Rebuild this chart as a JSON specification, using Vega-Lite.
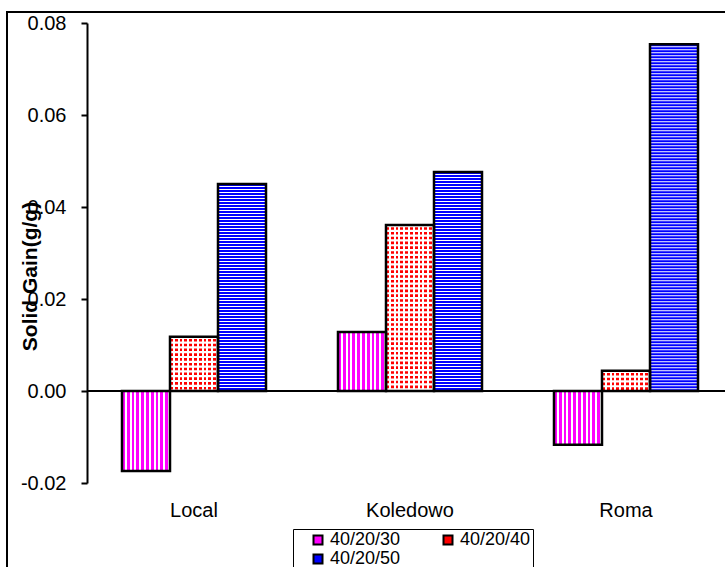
{
  "$schema": "https://vega.github.io/schema/vega-lite/v6.json",
  "width": 638,
  "height": 460,
  "autosize": {"type": "none"},
  "padding": {"left": 87, "top": 23, "right": 0, "bottom": 84},
  "background": "white",
  "config": {"view": {"stroke": null}, "font": "Liberation Sans"},
  "data": {"values": [
    {"cat": "Local", "series": "40/20/30", "v": -0.0174},
    {"cat": "Local", "series": "40/20/40", "v": 0.0118},
    {"cat": "Local", "series": "40/20/50", "v": 0.045},
    {"cat": "Koledowo", "series": "40/20/30", "v": 0.0128},
    {"cat": "Koledowo", "series": "40/20/40", "v": 0.0361},
    {"cat": "Koledowo", "series": "40/20/50", "v": 0.0476},
    {"cat": "Roma", "series": "40/20/30", "v": -0.0117},
    {"cat": "Roma", "series": "40/20/40", "v": 0.0044},
    {"cat": "Roma", "series": "40/20/50", "v": 0.0754}
  ]},
  "layer": [
    {
      "encoding": {
        "x": {"field": "cat", "type": "nominal",
          "scale": {"type": "band", "domain": ["Local", "Koledowo", "Roma"], "paddingInner": 0.3333, "paddingOuter": 0.1435, "align": 0.5645},
          "axis": {"title": null, "domain": false, "ticks": false, "tickSize": 0, "labelAngle": 0, "labelFont": "Liberation Sans", "labelFontSize": 20, "labelColor": "black", "labelPadding": 17}},
        "xOffset": {"field": "series", "type": "nominal", "scale": {"domain": ["40/20/30", "40/20/40", "40/20/50"], "paddingInner": 0, "paddingOuter": 0}},
        "y": {"field": "v", "type": "quantitative", "stack": null,
          "scale": {"domain": [-0.02, 0.08], "nice": false, "zero": false},
          "axis": {"values": [-0.02, 0, 0.02, 0.04, 0.06, 0.08], "labelExpr": "replace(format(datum.value, '.2f'), '\u2212', '-')", "grid": false,
            "domainColor": "black", "domainWidth": 2, "tickColor": "black", "tickWidth": 2, "tickSize": 6,
            "labelFont": "Liberation Sans", "labelFontSize": 20, "labelColor": "black", "labelPadding": 15,
            "title": "Solid Gain(g/g)", "titleFont": "Liberation Sans", "titleFontSize": 21, "titleFontWeight": "bold", "titleColor": "black",
            "titleAngle": -90, "titleX": -57, "titleY": 253, "titleAlign": "center", "titleBaseline": "middle"}},
        "y2": {"datum": 0}
      },
      "layer": [
        {"mark": {"type": "bar"},
         "encoding": {"fill": {"field": "series", "type": "nominal",
           "scale": {"domain": ["40/20/30", "40/20/40", "40/20/50"], "range": ["#ff00ff", "#ff0000", "#0000ff"]},
           "legend": {"orient": "none", "legendX": 206, "legendY": 506, "columns": 2, "direction": "horizontal",
             "title": " ", "titleOrient": "left", "titlePadding": 14, "titleFontSize": 18,
             "padding": 2, "strokeColor": "black", "fillColor": "white",
             "symbolType": "square", "symbolSize": 81, "symbolStrokeColor": "black", "symbolStrokeWidth": 2, "symbolOpacity": 1,
             "labelFont": "Liberation Sans", "labelFontSize": 18, "labelColor": "black", "labelOffset": 3,
             "rowPadding": 1, "columnPadding": 38, "labelLimit": 300}}}},
        {"transform": [{"filter": "datum.series === '40/20/30'"}],
         "mark": {"type": "bar", "fill": {"gradient": "linear", "x1": 0, "y1": 0, "x2": 1, "y2": 0, "stops": [
           {"offset": 0, "color": "#f0f"}, {"offset": 0.06, "color": "#f0f"}, {"offset": 0.06, "color": "#fff"}, {"offset": 0.1, "color": "#fff"},
           {"offset": 0.1, "color": "#f0f"}, {"offset": 0.16, "color": "#f0f"}, {"offset": 0.16, "color": "#fff"}, {"offset": 0.2, "color": "#fff"},
           {"offset": 0.2, "color": "#f0f"}, {"offset": 0.26, "color": "#f0f"}, {"offset": 0.26, "color": "#fff"}, {"offset": 0.3, "color": "#fff"},
           {"offset": 0.3, "color": "#f0f"}, {"offset": 0.36, "color": "#f0f"}, {"offset": 0.36, "color": "#fff"}, {"offset": 0.4, "color": "#fff"},
           {"offset": 0.4, "color": "#f0f"}, {"offset": 0.46, "color": "#f0f"}, {"offset": 0.46, "color": "#fff"}, {"offset": 0.5, "color": "#fff"},
           {"offset": 0.5, "color": "#f0f"}, {"offset": 0.56, "color": "#f0f"}, {"offset": 0.56, "color": "#fff"}, {"offset": 0.6, "color": "#fff"},
           {"offset": 0.6, "color": "#f0f"}, {"offset": 0.66, "color": "#f0f"}, {"offset": 0.66, "color": "#fff"}, {"offset": 0.7, "color": "#fff"},
           {"offset": 0.7, "color": "#f0f"}, {"offset": 0.76, "color": "#f0f"}, {"offset": 0.76, "color": "#fff"}, {"offset": 0.8, "color": "#fff"},
           {"offset": 0.8, "color": "#f0f"}, {"offset": 0.86, "color": "#f0f"}, {"offset": 0.86, "color": "#fff"}, {"offset": 0.9, "color": "#fff"},
           {"offset": 0.9, "color": "#f0f"}, {"offset": 0.96, "color": "#f0f"}, {"offset": 0.96, "color": "#fff"}, {"offset": 1, "color": "#fff"}]}}},
        {"transform": [{"filter": "datum.series === '40/20/40'"}],
         "mark": {"type": "bar", "fill": {"gradient": "linear", "x1": 0, "y1": 0, "x2": 1, "y2": 0, "stops": [
           {"offset": 0, "color": "#f00"}, {"offset": 0.06, "color": "#f00"}, {"offset": 0.06, "color": "#fff"}, {"offset": 0.1, "color": "#fff"},
           {"offset": 0.1, "color": "#f00"}, {"offset": 0.16, "color": "#f00"}, {"offset": 0.16, "color": "#fff"}, {"offset": 0.2, "color": "#fff"},
           {"offset": 0.2, "color": "#f00"}, {"offset": 0.26, "color": "#f00"}, {"offset": 0.26, "color": "#fff"}, {"offset": 0.3, "color": "#fff"},
           {"offset": 0.3, "color": "#f00"}, {"offset": 0.36, "color": "#f00"}, {"offset": 0.36, "color": "#fff"}, {"offset": 0.4, "color": "#fff"},
           {"offset": 0.4, "color": "#f00"}, {"offset": 0.46, "color": "#f00"}, {"offset": 0.46, "color": "#fff"}, {"offset": 0.5, "color": "#fff"},
           {"offset": 0.5, "color": "#f00"}, {"offset": 0.56, "color": "#f00"}, {"offset": 0.56, "color": "#fff"}, {"offset": 0.6, "color": "#fff"},
           {"offset": 0.6, "color": "#f00"}, {"offset": 0.66, "color": "#f00"}, {"offset": 0.66, "color": "#fff"}, {"offset": 0.7, "color": "#fff"},
           {"offset": 0.7, "color": "#f00"}, {"offset": 0.76, "color": "#f00"}, {"offset": 0.76, "color": "#fff"}, {"offset": 0.8, "color": "#fff"},
           {"offset": 0.8, "color": "#f00"}, {"offset": 0.86, "color": "#f00"}, {"offset": 0.86, "color": "#fff"}, {"offset": 0.9, "color": "#fff"},
           {"offset": 0.9, "color": "#f00"}, {"offset": 0.96, "color": "#f00"}, {"offset": 0.96, "color": "#fff"}, {"offset": 1, "color": "#fff"}]}}},
        {"transform": [{"filter": "datum.series === '40/20/50'"}],
         "mark": {"type": "bar", "fill": "white"}},
        {"transform": [{"filter": "datum.series === '40/20/40'"}],
         "mark": {"type": "rule", "color": "white", "strokeWidth": 46, "strokeDash": [2.2, 2.6]}},
        {"transform": [{"filter": "datum.series === '40/20/50'"}],
         "mark": {"type": "rule", "color": "#0000ff", "strokeWidth": 46, "strokeDash": [2, 1]}},
        {"mark": {"type": "bar", "fill": "white", "fillOpacity": 0, "stroke": "black", "strokeWidth": 2.5}}
      ]
    },
    {"mark": {"type": "rule", "color": "black", "strokeWidth": 2},
     "encoding": {"y": {"datum": 0, "type": "quantitative"}}},
    {"mark": {"type": "rule", "color": "black", "strokeWidth": 2},
     "encoding": {
       "x": {"datum": "Local", "type": "nominal", "bandPosition": -0.7986},
       "x2": {"value": "width"},
       "y": {"datum": 0.08239, "type": "quantitative"}}},
    {"mark": {"type": "rule", "color": "black", "strokeWidth": 1.5},
     "encoding": {
       "x": {"datum": "Local", "type": "nominal", "bandPosition": -0.7986},
       "y": {"datum": 0.0826, "type": "quantitative"},
       "y2": {"datum": -0.05}}}
  ]
}
